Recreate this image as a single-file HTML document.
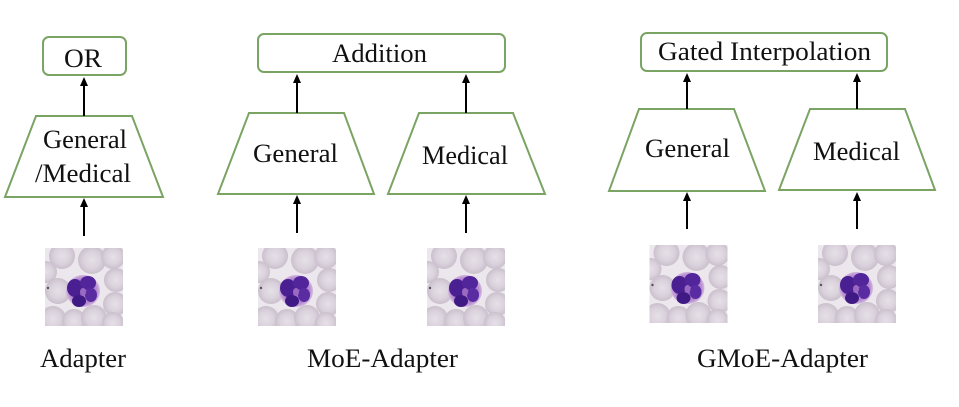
<!DOCTYPE html>
<html>
<head>
<meta charset="utf-8">
<style>
html,body{margin:0;padding:0;background:#fff;}
svg{display:block;}
text{font-family:"Liberation Serif","Times New Roman",serif;fill:#111;}
</style>
</head>
<body>
<svg width="959" height="407" viewBox="0 0 959 407" xmlns="http://www.w3.org/2000/svg">
<defs>
  <radialGradient id="rbc" cx="50%" cy="50%" r="50%">
    <stop offset="0%" stop-color="#e6e0e8"/>
    <stop offset="60%" stop-color="#dad2dc"/>
    <stop offset="100%" stop-color="#cac0cd"/>
  </radialGradient>
  <radialGradient id="halo" cx="50%" cy="50%" r="50%">
    <stop offset="0%" stop-color="#9a66c4"/>
    <stop offset="80%" stop-color="#b58ad0"/>
    <stop offset="100%" stop-color="#d2b8de"/>
  </radialGradient>
  <clipPath id="clipcell"><rect x="0" y="0" width="78" height="78"/></clipPath>
  <symbol id="cell" viewBox="0 0 78 78">
    <g clip-path="url(#clipcell)">
      <rect x="0" y="0" width="78" height="78" fill="#ebe7ec"/>
      <circle cx="17" cy="8" r="13" fill="url(#rbc)"/>
      <circle cx="47" cy="12" r="14" fill="url(#rbc)"/>
      <circle cx="68" cy="9" r="12" fill="url(#rbc)"/>
      <circle cx="1" cy="24" r="11" fill="url(#rbc)"/>
      <circle cx="13" cy="43" r="13" fill="url(#rbc)"/>
      <circle cx="71" cy="32" r="12" fill="url(#rbc)"/>
      <circle cx="70" cy="56" r="12" fill="url(#rbc)"/>
      <circle cx="8" cy="71" r="13" fill="url(#rbc)"/>
      <circle cx="29" cy="73" r="12" fill="url(#rbc)"/>
      <circle cx="49" cy="70" r="13" fill="url(#rbc)"/>
      <circle cx="68" cy="75" r="11" fill="url(#rbc)"/>
      <circle cx="3" cy="40" r="1.2" fill="#555"/>
      <ellipse cx="38" cy="43" rx="17" ry="16" fill="url(#halo)"/>
      <ellipse cx="30" cy="40" rx="8" ry="9" fill="#4a1f92"/>
      <ellipse cx="43" cy="35" rx="8" ry="7" fill="#52259a"/>
      <ellipse cx="34" cy="53" rx="7" ry="6" fill="#3f1a84"/>
      <ellipse cx="46" cy="47" rx="6" ry="7" fill="#5a2ca2"/>
      <ellipse cx="38" cy="44" rx="3" ry="4" fill="#9a6ac2"/>
    </g>
  </symbol>
</defs>

<g fill="none" stroke="#7aa463" stroke-width="2">
  <rect x="43" y="37" width="83" height="38" rx="6"/>
  <polygon points="36,116 132,116 163,197 5,197"/>
  <rect x="258" y="34" width="247" height="38" rx="6"/>
  <polygon points="249,113 344,113 374,194 218,194"/>
  <polygon points="419,113 513,113 545,194 388,194"/>
  <rect x="641" y="33" width="246" height="38" rx="6"/>
  <polygon points="639,109 734,109 765,191 609,191"/>
  <polygon points="810,109 905,109 935,190 779,190"/>
</g>

<g stroke="#000" stroke-width="2">
  <line x1="84" y1="116" x2="84" y2="84"/>
  <line x1="84" y1="236" x2="84" y2="205"/>
  <line x1="297" y1="113" x2="297" y2="81"/>
  <line x1="466" y1="113" x2="466" y2="81"/>
  <line x1="297" y1="233" x2="297" y2="202"/>
  <line x1="466" y1="233" x2="466" y2="202"/>
  <line x1="687" y1="109" x2="687" y2="80"/>
  <line x1="857" y1="109" x2="857" y2="80"/>
  <line x1="687" y1="229" x2="687" y2="199"/>
  <line x1="857" y1="229" x2="857" y2="199"/>
</g>
<g fill="#000">
  <polygon points="84,77 80,86 88,86"/>
  <polygon points="84,198 80,207 88,207"/>
  <polygon points="297,74 293,83 301,83"/>
  <polygon points="466,74 462,83 470,83"/>
  <polygon points="297,195 293,204 301,204"/>
  <polygon points="466,195 462,204 470,204"/>
  <polygon points="687,73 683,82 691,82"/>
  <polygon points="857,73 853,82 861,82"/>
  <polygon points="687,192 683,201 691,201"/>
  <polygon points="857,192 853,201 861,201"/>
</g>

<use href="#cell" x="45" y="248" width="78" height="78"/>
<use href="#cell" x="258" y="248" width="78" height="78"/>
<use href="#cell" x="427" y="248" width="78" height="78"/>
<use href="#cell" x="649" y="245" width="79" height="78"/>
<use href="#cell" x="818" y="245" width="78" height="78"/>

<g font-size="26">
  <text x="64" y="67" textLength="38" lengthAdjust="spacingAndGlyphs">OR</text>
  <text x="43" y="148" textLength="84" lengthAdjust="spacingAndGlyphs">General</text>
  <text x="35" y="182" textLength="96" lengthAdjust="spacingAndGlyphs">/Medical</text>

  <text x="332" y="62" textLength="95" lengthAdjust="spacingAndGlyphs">Addition</text>
  <text x="253" y="162" textLength="85" lengthAdjust="spacingAndGlyphs">General</text>
  <text x="422" y="164" textLength="86" lengthAdjust="spacingAndGlyphs">Medical</text>

  <text x="658" y="60" textLength="213" lengthAdjust="spacingAndGlyphs">Gated Interpolation</text>
  <text x="645" y="157" textLength="85" lengthAdjust="spacingAndGlyphs">General</text>
  <text x="813" y="160" textLength="87" lengthAdjust="spacingAndGlyphs">Medical</text>

  <text x="40" y="367" textLength="86" lengthAdjust="spacingAndGlyphs">Adapter</text>
  <text x="307" y="367" textLength="151" lengthAdjust="spacingAndGlyphs">MoE-Adapter</text>
  <text x="697" y="367" textLength="171" lengthAdjust="spacingAndGlyphs">GMoE-Adapter</text>
</g>
</svg>
</body>
</html>
